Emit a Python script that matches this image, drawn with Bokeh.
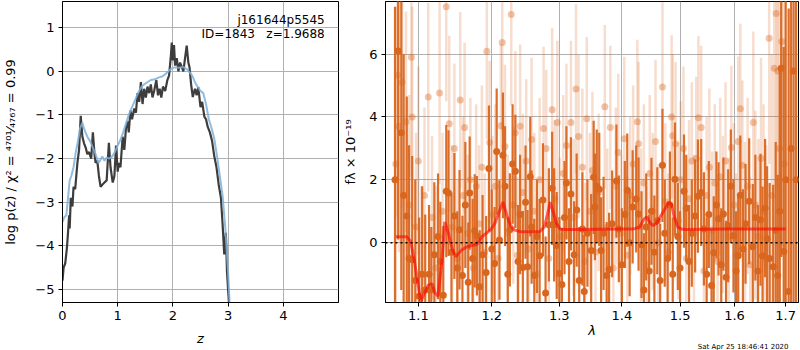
from bokeh.plotting import figure
from bokeh.layouts import row
from bokeh.models import FixedTicker, PrintfTickFormatter, Label, Range1d, ColumnDataSource, Span, Title
from bokeh.embed import file_html
from bokeh.resources import INLINE

FONT = "DejaVu Sans"
ORANGE = "#d9661f"

# ---------------- left panel: log p(z) ----------------
z_pdf = [0.0, 0.02, 0.05, 0.08, 0.1, 0.12, 0.13, 0.15, 0.18, 0.2, 0.23, 0.27, 0.3, 0.33, 0.36, 0.39,
         0.42, 0.45, 0.48, 0.52, 0.55, 0.58, 0.6, 0.63, 0.66, 0.69, 0.72, 0.76, 0.8, 0.84, 0.87, 0.91,
         0.94, 0.97, 1.0, 1.02, 1.05, 1.09, 1.12, 1.15, 1.18, 1.2, 1.23, 1.26, 1.3, 1.33, 1.36, 1.39,
         1.42, 1.45, 1.48, 1.51, 1.54, 1.57, 1.6, 1.63, 1.66, 1.7, 1.73, 1.76, 1.79, 1.82, 1.86, 1.9,
         1.93, 1.96, 1.98, 2.0, 2.02, 2.04, 2.07, 2.1, 2.13, 2.16, 2.19, 2.22, 2.25, 2.28, 2.3, 2.33,
         2.36, 2.4, 2.43, 2.46, 2.5, 2.53, 2.57, 2.6, 2.63, 2.67, 2.71, 2.75, 2.79, 2.83, 2.87, 2.9,
         2.93, 2.96, 2.98, 3.0, 3.02]
logp_pdf = [-4.8, -4.5, -4.4, -4.05, -3.7, -3.3, -3.6, -2.9, -3.1, -2.65, -2.7, -2.1, -1.8, -1.02, -1.5, -1.65,
            -1.75, -1.9, -1.85, -2.0, -1.4, -1.9, -2.1, -2.05, -2.4, -2.65, -2.6, -2.55, -2.5, -1.64, -2.2, -2.55,
            -2.4, -1.7, -2.3, -2.1, -2.2, -1.5, -1.8, -1.3, -1.15, -1.4, -0.9, -1.1, -0.85, -0.95, -0.5, -0.7,
            -0.25, -0.75, -0.4, -0.6, -0.35, -0.5, -0.3, -0.6, -0.45, -0.2, -0.55, -0.4, -0.6, -0.35, -0.45, -0.2,
            -0.1, 0.3, 0.66, 0.25, 0.6, 0.13, 0.3, 0.0, 0.2, 0.1, 0.0, 0.3, 0.59, 0.2, 0.1, -0.3,
            -0.59, -0.4, -0.55, -0.36, -0.82, -0.7, -1.04, -1.1, -1.27, -1.4, -1.6, -1.95, -2.2, -2.6, -2.9, -3.5,
            -4.2, -3.7, -4.6, -5.0, -5.4]

z_prior = [0.0, 0.03, 0.07, 0.1, 0.13, 0.16, 0.2, 0.24, 0.28, 0.32, 0.36, 0.4, 0.45, 0.5, 0.55, 0.6,
           0.65, 0.68, 0.72, 0.76, 0.8, 0.85, 0.9, 0.95, 1.0, 1.05, 1.1, 1.15, 1.2, 1.25, 1.3, 1.35,
           1.4, 1.45, 1.5, 1.55, 1.6, 1.65, 1.7, 1.75, 1.8, 1.85, 1.9, 1.95, 2.0, 2.05, 2.1, 2.15,
           2.2, 2.25, 2.3, 2.35, 2.4, 2.45, 2.5, 2.55, 2.6, 2.65, 2.7, 2.75, 2.8, 2.85, 2.9, 2.95,
           3.0, 3.03]
logp_prior = [-3.45, -3.35, -3.3, -2.9, -2.5, -2.4, -2.2, -1.86, -1.6, -1.3, -1.18, -1.35, -1.5, -1.6, -1.75, -1.9,
              -2.1, -2.05, -1.95, -2.05, -1.98, -2.0, -1.95, -1.85, -1.7, -1.57, -1.4, -1.2, -1.0, -0.85, -0.7, -0.55,
              -0.42, -0.33, -0.28, -0.24, -0.2, -0.19, -0.17, -0.14, -0.12, -0.08, -0.02, 0.04, 0.08, 0.09, 0.08, 0.09,
              0.09, 0.05, -0.02, -0.1, -0.25, -0.36, -0.45, -0.5, -0.75, -1.1, -1.3, -1.55, -1.95, -2.4, -2.85, -3.6,
              -4.6, -5.4]

z_ticks = [0, 1, 2, 3, 4]
logp_ticks = [-5, -4, -3, -2, -1, 0, 1]

# ---------------- right panel: spectrum ----------------
wave_a = [1.070, 1.074, 1.078, 1.081, 1.085, 1.088, 1.092, 1.096, 1.101, 1.105, 1.109, 1.114, 1.117, 1.121,
          1.126, 1.129, 1.133, 1.137, 1.140, 1.144, 1.148, 1.152, 1.155, 1.159, 1.163, 1.167, 1.169, 1.173,
          1.176, 1.179, 1.183, 1.187, 1.192, 1.196, 1.200, 1.204, 1.207, 1.211, 1.216, 1.219, 1.223, 1.226,
          1.230, 1.234, 1.238, 1.241, 1.245, 1.249, 1.252, 1.256, 1.258, 1.262, 1.266, 1.270, 1.275, 1.279,
          1.284, 1.289, 1.292, 1.296, 1.300, 1.304, 1.308, 1.311, 1.315, 1.318, 1.323, 1.327, 1.331, 1.336,
          1.339, 1.344, 1.350, 1.354, 1.356, 1.359, 1.363, 1.366, 1.370, 1.375, 1.379, 1.384, 1.391, 1.395,
          1.400, 1.405, 1.409, 1.413, 1.418, 1.424, 1.428, 1.433, 1.437, 1.441, 1.446, 1.450, 1.455, 1.460,
          1.465, 1.469, 1.473, 1.478, 1.482, 1.487, 1.491, 1.496, 1.500, 1.507, 1.511, 1.516, 1.521, 1.527,
          1.532, 1.538, 1.543, 1.548, 1.552, 1.557, 1.561, 1.566, 1.570, 1.575, 1.579, 1.584, 1.588, 1.593,
          1.598, 1.603, 1.607, 1.611, 1.616, 1.621, 1.628, 1.635, 1.640, 1.645, 1.650, 1.654, 1.659, 1.663,
          1.668, 1.675, 1.680, 1.684, 1.688, 1.691, 1.696, 1.700, 1.706, 1.711, 1.716, 1.721]
flux_a = [2.0, 6.1, 3.5, 1.5, 0.85, -0.5, -0.54, -1.2, -1.7, -1.0, -1.5, -1.0, -1.5, -0.38,
          0.2, -0.6, -1.67, 1.64, 1.58, -0.3, 0.85, -0.8, 0.41, -1.04, 1.2, -1.26, 1.58, -0.5,
          0.38, 0.22, -1.4, -0.38, -0.95, 2.36, -0.2, -0.66, 2.9, 0.09, 2.78, 1.8, -1.0, 0.41,
          2.5, 2.27, -0.6, 0.9, -0.79, 1.29, -0.76, 2.1, 0.5, -1.04, 0.2, -0.41, 1.36, -1.6,
          0.57, 1.73, 0.57, -0.09, -0.98, -1.33, 0.8, 1.9, -0.6, 1.55, -0.38, 1.04, -1.2, 0.44,
          -1.55, 0.3, -0.25, 2.08, 1.14, 1.8, 1.7, -0.25, 0.3, -1.04, -0.85, 0.6, 1.96, 0.44,
          -0.7, 0.9, 1.67, 0.0, 1.14, 1.39, 0.91, -0.06, -1.5, 0.5, -0.9, 1.0, -0.3, 0.7,
          -1.2, 2.46, 0.3, -0.5, 1.2, -1.0, 2.02, 0.2, -0.8, 1.64, 1.1, -0.6, 0.3, 0.85,
          1.48, 1.6, 0.44, -1.0, 0.9, -1.36, -0.32, 1.2, 0.76, -0.7, 0.91, -1.1, 0.54, 1.8,
          0.22, -0.9, -0.41, 1.51, -0.2, 0.6, 1.32, -0.13, 0.8, -0.9, 0.73, -0.41, 1.1, 0.13,
          -0.5, -0.76, 0.4, -1.04, 1.0, 5.55, -0.28, 2.0, -1.55, 3.0, 5.46, 2.0]
err_a = [5.5, 6.0, 5.0, 4.5, 3.8, 3.6, 3.3, 3.2, 2.5, 2.8, 2.4, 2.2, 2.0, 2.3,
         2.0, 1.9, 2.2, 2.1, 2.0, 1.9, 2.0, 1.8, 1.9, 1.9, 2.0, 1.9, 1.8, 1.9,
         1.8, 1.9, 1.8, 1.9, 1.8, 2.0, 1.9, 1.8, 2.0, 1.9, 2.0, 1.9, 1.8, 1.8,
         1.9, 1.8, 1.8, 1.9, 1.8, 1.8, 1.8, 1.9, 1.8, 1.8, 1.8, 1.8, 1.8, 1.8,
         1.8, 1.8, 1.8, 1.7, 1.8, 1.8, 1.8, 1.8, 1.7, 1.8, 1.7, 1.8, 1.7, 1.8,
         1.8, 1.7, 1.8, 1.8, 1.7, 1.8, 1.8, 1.7, 1.8, 1.7, 1.8, 1.7, 1.8, 1.7,
         1.8, 1.7, 1.8, 1.7, 1.8, 1.7, 1.8, 1.7, 1.8, 1.7, 1.8, 1.7, 1.8, 1.7,
         1.8, 1.8, 1.7, 1.8, 1.7, 1.8, 1.8, 1.7, 1.8, 1.8, 1.7, 1.8, 1.7, 1.8,
         1.8, 1.7, 1.8, 1.8, 1.7, 1.8, 1.8, 1.7, 1.8, 1.8, 1.8, 1.8, 1.8, 1.8,
         1.8, 1.9, 1.9, 1.9, 1.9, 1.9, 2.0, 2.0, 2.0, 2.1, 2.1, 2.2, 2.2, 2.3,
         2.4, 2.6, 2.8, 3.2, 4.5, 6.0, 6.5, 7.0, 9.0, 9.0, 9.0, 9.0]

wave_b = [1.071, 1.073, 1.075, 1.079, 1.084, 1.088, 1.091, 1.092, 1.097, 1.100, 1.104, 1.108, 1.113, 1.118,
          1.123, 1.128, 1.132, 1.137, 1.141, 1.145, 1.148, 1.152, 1.156, 1.160, 1.162, 1.166, 1.170, 1.174,
          1.178, 1.182, 1.186, 1.190, 1.193, 1.197, 1.201, 1.205, 1.209, 1.213, 1.215, 1.219, 1.223, 1.228,
          1.231, 1.234, 1.237, 1.241, 1.245, 1.250, 1.254, 1.258, 1.262, 1.266, 1.270, 1.276, 1.280, 1.284,
          1.289, 1.293, 1.297, 1.301, 1.306, 1.311, 1.318, 1.322, 1.326, 1.330, 1.336, 1.340, 1.343, 1.348,
          1.352, 1.357, 1.362, 1.372, 1.376, 1.381, 1.386, 1.390, 1.394, 1.399, 1.404, 1.409, 1.414, 1.419,
          1.426, 1.428, 1.432, 1.437, 1.442, 1.447, 1.452, 1.457, 1.462, 1.469, 1.474, 1.479, 1.485, 1.487,
          1.492, 1.497, 1.501, 1.506, 1.511, 1.516, 1.521, 1.525, 1.529, 1.533, 1.538, 1.543, 1.548, 1.553,
          1.558, 1.563, 1.568, 1.573, 1.578, 1.583, 1.589, 1.594, 1.599, 1.603, 1.607, 1.611, 1.615, 1.620,
          1.625, 1.630, 1.636, 1.640, 1.646, 1.651, 1.656, 1.661, 1.667, 1.672, 1.677, 1.681, 1.684, 1.688,
          1.692, 1.697]
flux_b = [2.5, 5.33, 3.7, 5.1, 3.85, 1.2, 5.9, 4.0, 0.5, 2.6, -1.0, 1.5, 4.63, 0.8,
          -0.8, 4.76, 1.0, 7.5, 3.78, 0.5, 3.0, -0.5, 4.54, 1.5, 3.66, 0.3, 2.0, -0.8,
          1.8, 0.6, 2.4, -0.3, 6.09, 3.19, 0.9, 1.8, -0.5, 3.72, 6.37, 3.06, 0.3, 7.26,
          1.2, 3.5, -0.4, 3.7, 1.6, 2.6, -0.2, 3.28, 1.0, -1.0, 2.0, 3.63, 3.0, -0.5,
          4.23, 1.4, 3.82, 0.2, 2.2, 3.09, 3.82, 0.8, 4.89, 3.38, 2.4, -0.6, 3.94, 1.0,
          2.3, -0.3, 1.6, 4.32, 0.5, 3.66, -0.8, 1.8, 2.87, 0.3, 3.31, -0.4, 1.5, 2.5,
          3.85, 3.15, 0.5, 1.9, -0.7, 2.2, 1.0, 3.22, 0.0, 4.95, 1.3, -0.3, 4.0, 3.4,
          3.15, 0.7, 2.0, 3.0, -0.5, 1.4, 2.6, 0.3, 2.68, 3.97, 3.66, -0.9, 1.5, 2.4,
          0.4, 1.9, -0.6, 2.1, 0.9, 2.6, 0.2, 3.03, 1.2, -0.4, 3.22, 4.26, 2.46, 0.5,
          1.8, -0.7, 3.82, 1.2, 0.2, 2.68, 1.0, -0.5, 6.5, 1.5, 5.55, 7.29, 5.46, 3.0,
          6.4, 2.5]
err_b = [5.0, 4.5, 4.0, 4.0, 3.5, 3.5, 3.8, 3.5, 3.0, 3.0, 2.8, 2.8, 3.0, 2.6,
         2.6, 2.9, 2.5, 3.0, 2.8, 2.6, 2.7, 2.5, 2.8, 2.5, 2.7, 2.5, 2.6, 2.5,
         2.6, 2.5, 2.6, 2.5, 2.8, 2.6, 2.5, 2.6, 2.5, 2.6, 2.8, 2.6, 2.5, 2.9,
         2.5, 2.6, 2.5, 2.6, 2.5, 2.6, 2.5, 2.6, 2.5, 2.5, 2.6, 2.6, 2.5, 2.5,
         2.6, 2.5, 2.6, 2.5, 2.5, 2.6, 2.6, 2.5, 2.7, 2.6, 2.5, 2.5, 2.6, 2.5,
         2.5, 2.5, 2.5, 2.6, 2.5, 2.6, 2.5, 2.5, 2.5, 2.5, 2.6, 2.5, 2.5, 2.5,
         2.6, 2.6, 2.5, 2.5, 2.5, 2.5, 2.5, 2.6, 2.5, 2.7, 2.5, 2.5, 2.6, 2.6,
         2.6, 2.5, 2.5, 2.6, 2.5, 2.5, 2.5, 2.5, 2.6, 2.6, 2.6, 2.5, 2.5, 2.5,
         2.5, 2.5, 2.5, 2.5, 2.5, 2.5, 2.5, 2.6, 2.6, 2.6, 2.7, 2.7, 2.7, 2.7,
         2.8, 2.8, 2.9, 3.0, 3.1, 3.2, 3.4, 3.6, 4.0, 4.5, 5.0, 5.5, 5.5, 6.0,
         6.5, 7.0]

wave_model = [1.071, 1.085, 1.090, 1.095, 1.100, 1.103, 1.108, 1.113, 1.118, 1.122, 1.126, 1.131, 1.135,
              1.140, 1.145, 1.150, 1.157, 1.165, 1.172, 1.179, 1.186, 1.192, 1.198, 1.204, 1.210, 1.216,
              1.222, 1.227, 1.233, 1.240, 1.250, 1.260, 1.270, 1.277, 1.282, 1.286, 1.291, 1.296, 1.301,
              1.310, 1.330, 1.360, 1.390, 1.420, 1.430, 1.437, 1.442, 1.447, 1.452, 1.458, 1.466, 1.474,
              1.480, 1.485, 1.490, 1.496, 1.502, 1.510, 1.540, 1.580, 1.620, 1.660, 1.700]
flux_model = [0.19, 0.19, 0.05, -0.6, -1.4, -1.86, -1.6, -1.35, -1.3, -1.6, -1.7, -0.6, 0.66,
              0.3, -0.2, -0.44, -0.25, -0.13, -0.09, -0.05, 0.19, 0.3, 0.4, 0.6, 0.95, 1.29,
              0.85, 0.55, 0.4, 0.36, 0.35, 0.35, 0.35, 0.5, 0.9, 1.29, 0.95, 0.6, 0.44,
              0.42, 0.42, 0.43, 0.44, 0.44, 0.5, 0.75, 0.82, 0.65, 0.55, 0.6, 0.85, 1.1,
              1.29, 1.2, 0.8, 0.5, 0.44, 0.42, 0.43, 0.44, 0.44, 0.44, 0.44]

wave_ticks = [1.1, 1.2, 1.3, 1.4, 1.5, 1.6, 1.7]
flux_ticks = [0, 2, 4, 6]

root_name = "j161644p5545"
id_text = "ID=1843\u00a0\u00a0\u00a0z=1.9688"
timestamp = "Sat Apr 25 18:46:41 2020"


def style(p):
    p.outline_line_color = "black"
    p.outline_line_width = 1
    p.outline_line_alpha = 1
    p.background_fill_color = "white"
    p.border_fill_color = "white"
    for ax in p.axis:
        ax.axis_line_color = "black"
        ax.major_tick_out = 4
        ax.major_tick_in = 0
        ax.minor_tick_out = 0
        ax.minor_tick_in = 0
        ax.major_label_text_font = FONT
        ax.major_label_text_font_size = "13px"
        ax.major_label_text_color = "black"
        ax.axis_label_text_font = FONT
        ax.axis_label_text_font_size = "13px"
        ax.axis_label_text_color = "black"
        ax.axis_label_text_font_style = "normal"
        ax.major_label_standoff = 4
    for g in p.grid:
        g.grid_line_color = "#b0b0b0"
        g.grid_line_width = 1
        g.grid_line_alpha = 1


BOTTOM = 48

# ---------- left figure ----------
p1 = figure(width=340, height=350, output_backend="svg", toolbar_location=None,
            x_range=Range1d(0, 5.0), y_range=Range1d(-5.3, 1.6),
            min_border_left=62, min_border_right=2, min_border_top=1, min_border_bottom=BOTTOM)
style(p1)
p1.xaxis.ticker = FixedTicker(ticks=z_ticks)
p1.yaxis.ticker = FixedTicker(ticks=logp_ticks)
p1.yaxis.major_label_overrides = {t: (str(t).replace("-", "\u2212")) for t in logp_ticks}
p1.xaxis.axis_label = "z"
p1.xaxis.axis_label_text_font_style = "italic"
p1.yaxis.axis_label = "log p(z) / \u03c7\u00b2 = \u2074\u2077\u2070\u00b9\u2044\u2084\u2087\u2086\u2087 = 0.99"
p1.yaxis.axis_label_standoff = 14
p1.xaxis.axis_label_standoff = 8

p1.line(z_pdf, logp_pdf, line_color="#333333", line_width=2.2, line_alpha=0.95)
p1.line(z_prior, logp_prior, line_color="#7fb0d8", line_width=2, line_alpha=0.85)

p1.add_layout(Label(x=4.75, y=1.17, text=root_name, text_align="right", text_baseline="middle",
                    text_font=FONT, text_font_size="12px", text_color="black"))
p1.add_layout(Label(x=4.75, y=0.85, text=id_text, text_align="right", text_baseline="middle",
                    text_font=FONT, text_font_size="12px", text_color="black"))

# ---------- right figure ----------
p2 = figure(width=460, height=350, output_backend="svg", toolbar_location=None,
            x_axis_type="log", x_range=Range1d(1.058, 1.726), y_range=Range1d(-1.9, 7.67),
            min_border_left=44, min_border_right=2, min_border_top=1, min_border_bottom=BOTTOM)
style(p2)
p2.xaxis.ticker = FixedTicker(ticks=wave_ticks)
p2.xaxis.formatter = PrintfTickFormatter(format="%.1f")
p2.yaxis.ticker = FixedTicker(ticks=flux_ticks)
p2.xaxis.axis_label = "\u03bb"
p2.xaxis.axis_label_text_font_style = "italic"
p2.xaxis.axis_label_standoff = 0
p2.yaxis.axis_label = "f\u03bb \u00d7 10\u207b\u00b9\u2079"
p2.yaxis.axis_label_standoff = 8

src_b = ColumnDataSource(dict(w=wave_b, f=flux_b,
                              lo=[f - e for f, e in zip(flux_b, err_b)],
                              hi=[f + e for f, e in zip(flux_b, err_b)]))
src_a = ColumnDataSource(dict(w=wave_a, f=flux_a,
                              lo=[f - e for f, e in zip(flux_a, err_a)],
                              hi=[f + e for f, e in zip(flux_a, err_a)]))

p2.segment(x0="w", y0="lo", x1="w", y1="hi", source=src_b, line_color=ORANGE, line_alpha=0.22, line_width=2.5)
p2.scatter("w", "f", source=src_b, size=7, fill_color=ORANGE, fill_alpha=0.38, line_color=None)
p2.segment(x0="w", y0="lo", x1="w", y1="hi", source=src_a, line_color=ORANGE, line_alpha=0.95, line_width=2.2)
p2.scatter("w", "f", source=src_a, size=7, fill_color=ORANGE, fill_alpha=1, line_color=None)
p2.line(wave_model, flux_model, line_color="red", line_alpha=0.6, line_width=3)
p2.add_layout(Span(location=0, dimension="width", line_color="black", line_dash="2 3", line_width=1.6))

p2.add_layout(Title(text=timestamp, align="right", text_font=FONT, text_font_size="7px",
                    text_font_style="normal", text_color="black", standoff=0, offset=10), "below")

layout = row(p1, p2)
open("out.html", "w").write(file_html(layout, INLINE))
